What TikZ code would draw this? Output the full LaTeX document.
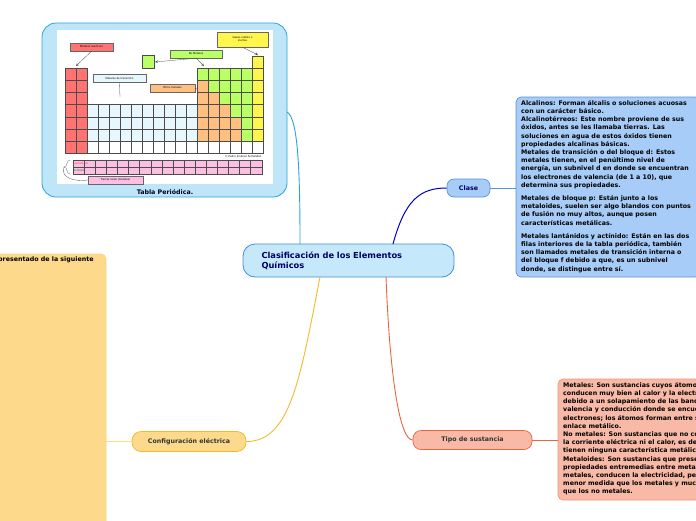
\documentclass[tikz,border=0pt]{standalone}
\usepackage{fontspec}
\setmainfont{DejaVu Sans}
\begin{document}
\begin{tikzpicture}[x=1pt,y=-1pt,
 txt/.style={font=\fontsize{6.3}{8.2}\selectfont\bfseries,align=left,anchor=north west,inner sep=0pt,text=black},
 tiny/.style={font=\fontsize{2.6}{3}\selectfont,inner sep=0.5pt,align=center},
 cell/.style={draw=black!70,line width=0.25pt}]
\useasboundingbox (0,0) rectangle (696,520);
\clip (0,0) rectangle (696,520);
\definecolor{mainf}{HTML}{C6E8FB}\definecolor{mainb}{HTML}{3E8ED8}
\definecolor{clasf}{HTML}{A6CCF7}\definecolor{clasb}{HTML}{5D93DD}
\definecolor{tipof}{HTML}{F8BAA6}\definecolor{tipob}{HTML}{E8663F}
\definecolor{conff}{HTML}{FDD98C}\definecolor{confb}{HTML}{F4B929}
\definecolor{tabf}{HTML}{BFE6F8}\definecolor{tabb}{HTML}{29A3E0}
\colorlet{cg}{green!45!yellow!60}\colorlet{co}{orange!50}
% periodic table container
\draw[tabb,fill=tabf,line width=0.8pt,rounded corners=14] (42,23) rectangle (287,197);
\fill[white] (57,30) rectangle (273,184);
\node[font=\fontsize{6.3}{7}\selectfont\bfseries,text=black!85!blue] (tabcap) at (165,192.5) {Tabla Periódica.};
% grid
\foreach \c in {1,...,18}{\foreach \r in {1,...,7}{
  \pgfmathsetmacro\xa{65+(\c-1)*11}\pgfmathsetmacro\ya{68+(\r-1)*12.2}
  \def\col{white}\def\skip{0}
  \ifnum\c<3 \def\col{red!55}\fi
  \ifnum\c>2 \ifnum\c<13 \ifnum\r<4 \def\skip{1}\else\ifnum\r<7 \def\col{cyan!10}\fi\fi\fi\fi
  \ifnum\c=13 \ifnum\r=1 \def\col{cg}\else\ifnum\r<7 \def\col{co}\fi\fi\fi
  \ifnum\c=14 \ifnum\r<3 \def\col{cg}\else\ifnum\r<7 \def\col{co}\fi\fi\fi
  \ifnum\c=15 \ifnum\r<4 \def\col{cg}\else\ifnum\r<7 \def\col{co}\fi\fi\fi
  \ifnum\c=16 \ifnum\r<5 \def\col{cg}\else\ifnum\r<7 \def\col{co}\fi\fi\fi
  \ifnum\c=17 \ifnum\r<7 \def\col{cg}\fi\fi
  \ifnum\c=18 \ifnum\r<7 \def\col{yellow!70}\fi\fi
  \ifnum\skip=0 \draw[cell,fill=\col] (\xa,\ya) rectangle ++(11,12.2);\fi
}}
\draw[cell,fill=yellow!70] (252,55.8) rectangle ++(11,12.2);
% lanthanides
\foreach \c in {0,...,16}{\foreach \r in {0,1}{\draw[cell,fill=magenta!25] (73+\c*11.1,160+\r*7) rectangle ++(11.1,7);}}
\node[tiny,text=red!80,anchor=west] at (73,163.5) {Lantánidos};
\node[tiny,text=green!50!black,anchor=west] at (73,170.5) {Actínidos};
\draw[black!60,line width=0.3pt] (70,160) .. controls (66,160) and (68,167) .. (64,167) .. controls (68,167) and (66,174) .. (70,174);
% labels
\node[tiny,draw=black!60,fill=red!55,minimum width=43pt,minimum height=8pt] (lr) at (91.5,47) {Metales reactivos};
\node[tiny,draw=black!60,fill=cg,minimum width=52pt,minimum height=8pt] (lnm) at (196,54) {No Metales};
\draw[black!70,fill=cg,line width=0.3pt] (142,55) rectangle (154,68);
\node[tiny,draw=black!60,fill=yellow!70,minimum width=51pt,minimum height=15pt] (lg) at (242.5,39.5) {Gases nobles o\\inertes};
\node[tiny,draw=black!60,fill=cyan!10,minimum width=53pt,minimum height=8pt] (lt) at (119.5,78) {Metales de transición};
\node[tiny,draw=black!60,fill=co,minimum width=45pt,minimum height=8pt] (lo) at (172.5,88) {Otros metales};
\node[tiny,draw=black!60,fill=magenta!25,minimum width=55pt,minimum height=8pt] (ltr) at (115.5,180) {Tierras raras (metales)};
\node[tiny,anchor=east] at (262,156.5) {© Pedro Jiménez Fernández};
\draw[-stealth,black!70,line width=0.3pt] (lr.south) -- (76,66);
\draw[-stealth,black!70,line width=0.3pt] (lnm.south) -- (155,62);
\draw[-stealth,black!70,line width=0.3pt] (lnm.south) -- (204,66);
\draw[-stealth,black!70,line width=0.3pt] (lg.south) -- (258,55);
\draw[black!70,line width=0.3pt] (lt.south) -- (120,97);
\draw[black!70,line width=0.3pt] (lo.east) -- (198,90);
\draw[black!70,line width=0.3pt] (64,167) .. controls (60,178) and (75,182) .. (ltr.west);
% main
\node[draw=mainb,fill=mainf,line width=0.8pt,rounded corners=12,minimum width=211pt,minimum height=33pt,
 font=\fontsize{8.3}{10}\selectfont\bfseries,text=blue!40!black,align=left,text width=190pt] (main) at (348.5,260.5)
 {\hspace*{8pt}Clasificación de los Elementos\\\hspace*{8pt}Químicos};
% Clase
\node[draw=clasb,fill=clasf,line width=0.7pt,rounded corners=7,minimum width=43pt,minimum height=18pt,
 font=\fontsize{6.3}{7}\selectfont\bfseries,text=blue!40!black] (clase) at (468.5,188) {Clase};
\draw[blue!75!black,line width=1pt] (393,244) .. controls (405,200) and (420,188) .. (clase.west);
\draw[clasb,fill=clasf,line width=0.7pt,rounded corners=5] (516,97) rectangle (700,277);
\coordinate (cbox) at (516,188);
\draw[clasb,line width=0.7pt] (clase.east) -- (cbox);
\node[txt] at (521,100) {Alcalinos: Forman álcalis o soluciones acuosas\\con un carácter básico.\\Alcalinotérreos: Este nombre proviene de sus\\óxidos, antes se les llamaba tierras. Las\\soluciones en agua de estos óxidos tienen\\propiedades alcalinas básicas.\\Metales de transición o del bloque d: Estos\\metales tienen, en el penúltimo nivel de\\energía, un subnivel d en donde se encuentran\\los electrones de valencia (de 1 a 10), que\\determina sus propiedades.\\[5pt]Metales de bloque p: Están junto a los\\metaloides, suelen ser algo blandos con puntos\\de fusión no muy altos, aunque posen\\características metálicas.\\[5pt]Metales lantánidos y actínido: Están en las dos\\filas interiores de la tabla periódica, también\\son llamados metales de transición interna o\\del bloque f debido a que, es un subnivel\\donde, se distingue entre sí.};
% Tabla connector
\draw[tabb,line width=0.9pt] (300,244) .. controls (300,170) and (298,118) .. (287,112);
% Tipo
\node[draw=tipob,fill=tipof,line width=0.7pt,rounded corners=8,minimum width=119pt,minimum height=19pt,
 font=\fontsize{6.3}{7}\selectfont\bfseries,text=black!80] (tipo) at (472.5,440) {Tipo de sustancia};
\draw[tipob,line width=0.9pt] (386,277) .. controls (390,380) and (400,440) .. (tipo.west);
\draw[tipob!70,fill=tipof,line width=0.7pt,rounded corners=5] (558,379) rectangle (700,500);
\coordinate (tbox) at (558,440);
\draw[tipob,line width=0.7pt] (tipo.east) -- (tbox);
\node[txt] at (563,382) {Metales: Son sustancias cuyos átomos\\conducen muy bien al calor y la electricidad\\debido a un solapamiento de las bandas de\\valencia y conducción donde se encuentran los\\electrones; los átomos forman entre sí un\\enlace metálico.\\No metales: Son sustancias que no conducen\\la corriente eléctrica ni el calor, es decir, no\\tienen ninguna característica metálica.\\Metaloides: Son sustancias que presentan\\propiedades entremedias entre metales y no\\metales, conducen la electricidad, pero en\\menor medida que los metales y mucho más\\que los no metales.};
% Configuracion
\node[draw=confb,fill=conff,line width=0.7pt,rounded corners=9,minimum width=114pt,minimum height=20pt,
 font=\fontsize{6.3}{7}\selectfont\bfseries,text=black!80] (conf) at (189,441.5) {Configuración eléctrica};
\draw[confb,line width=0.9pt] (320,277) .. controls (300,380) and (290,441.5) .. (conf.east);
\draw[confb!60,fill=conff,line width=0.7pt,rounded corners=5] (-20,254) rectangle (106,530);
\coordinate (fbox) at (106,441.5);
\draw[conff!80!yellow,line width=1pt] (conf.west) -- (fbox);
\node[txt] at (-2,257) {presentado de la siguiente};
\end{tikzpicture}
\end{document}
